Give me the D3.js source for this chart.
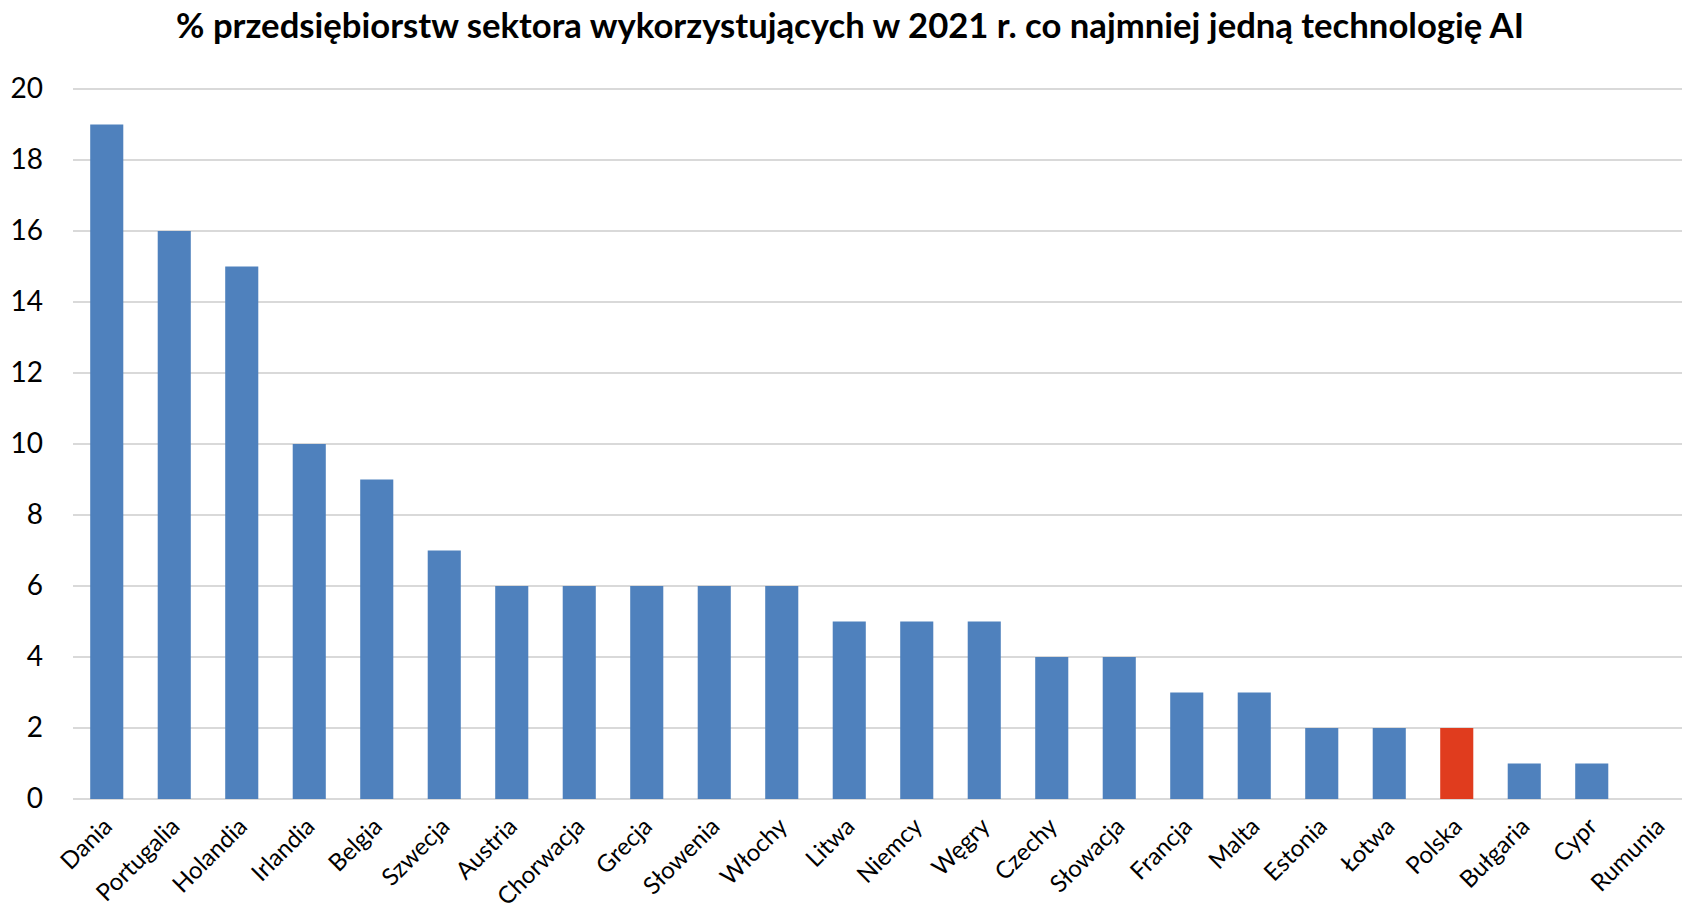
<!DOCTYPE html>
<html lang="pl">
<head>
<meta charset="utf-8">
<script src="https://cdn.jsdelivr.net/npm/d3@7"></script>
<style>
  html, body { margin: 0; padding: 0; background: #ffffff; }
  svg { display: block; }
</style>
</head>
<body>
<svg id="chart" width="1682" height="911"></svg>
<script>
// Kraje i odsetek przedsiębiorstw (w %)
const countries = ["Dania","Portugalia","Holandia","Irlandia","Belgia","Szwecja","Austria","Chorwacja","Grecja","Słowenia","Włochy","Litwa","Niemcy","Węgry","Czechy","Słowacja","Francja","Malta","Estonia","Łotwa","Polska","Bułgaria","Cypr","Rumunia"];
const values = [19,16,15,10,9,7,6,6,6,6,6,5,5,5,4,4,3,3,2,2,2,1,1,0];
const yTicks = [0,2,4,6,8,10,12,14,16,18,20];
const highlighted = ["Polska"];
const title = "% przedsiębiorstw sektora wykorzystujących w 2021 r. co najmniej jedną technologię AI";

const W = 1682, H = 911;
const margin = { left: 73, right: -11, top: 89, bottom: 112 };
const svg = d3.select("#chart");

const x = d3.scaleBand()
  .domain(countries)
  .range([margin.left, W - margin.right])
  .paddingInner(0.51)
  .paddingOuter(0.255);

const y = d3.scaleLinear()
  .domain([0, 20])
  .range([H - margin.bottom, margin.top]);

// Title
const t = svg.append("text")
  .attr("x", 850)
  .attr("y", 38)
  .attr("text-anchor", "middle")
  .style("font-family", "Lato, 'Open Sans', sans-serif")
  .style("font-weight", 700)
  .style("font-size", "31px")
  .attr("fill", "#000")
  .text(title);
// fit title to its width
const targetW = 1348;
const curW = t.node().getComputedTextLength();
t.style("font-size", (31 * targetW / curW).toFixed(2) + "px");

// Gridlines
svg.append("g")
  .selectAll("line")
  .data(yTicks)
  .join("line")
  .attr("x1", margin.left)
  .attr("x2", W)
  .attr("y1", d => y(d))
  .attr("y2", d => y(d))
  .attr("stroke", "#d9d9d9")
  .attr("stroke-width", 2);

// Y axis labels
const yAxis = d3.axisLeft(y).tickValues(yTicks).tickSize(0).tickPadding(0);
const gy = svg.append("g")
  .attr("transform", "translate(43,0)")
  .call(yAxis);
gy.select(".domain").remove();
gy.selectAll("text")
  .style("font-family", "Lato, 'Open Sans', sans-serif")
  .style("font-size", "28px")
  .attr("fill", "#000");

// Bars
svg.append("g")
  .selectAll("rect")
  .data(countries.map((c, i) => ({ c, v: values[i] })))
  .join("rect")
  .attr("x", d => x(d.c))
  .attr("width", x.bandwidth())
  .attr("y", d => y(d.v))
  .attr("height", d => y(0) - y(d.v))
  .attr("fill", d => highlighted.includes(d.c) ? "#e03c1e" : "#4f81bd");

// X axis labels, rotated 45°
const xAxis = d3.axisBottom(x).tickSize(0).tickPadding(0);
const gx = svg.append("g")
  .attr("transform", `translate(0,${y(0)})`)
  .call(xAxis);
gx.select(".domain").remove();
gx.selectAll("text")
  .attr("text-anchor", "end")
  .attr("dy", "0.35em")
  .attr("y", 0)
  .attr("transform", "translate(1,23) rotate(-45)")
  .style("font-family", "Lato, 'Open Sans', sans-serif")
  .style("font-size", "24px")
  .attr("fill", "#000");
</script>
</body>
</html>
